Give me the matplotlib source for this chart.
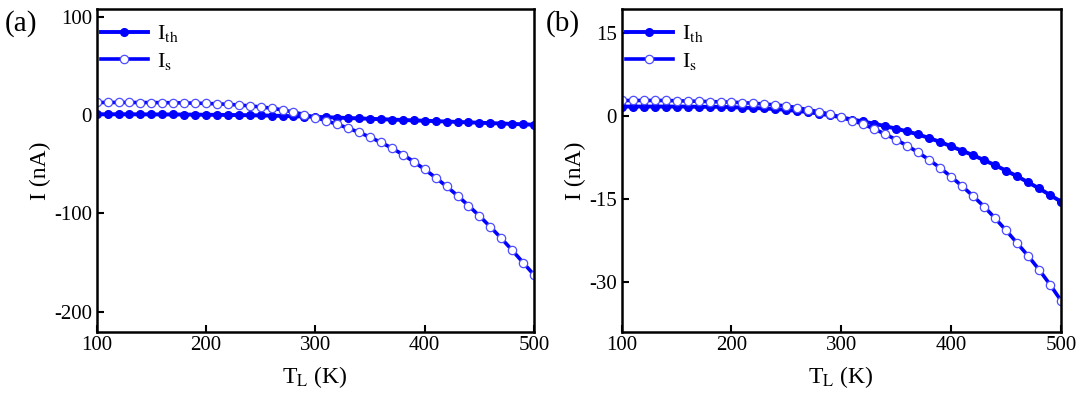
import numpy as np
import matplotlib
matplotlib.use("Agg")
import matplotlib.pyplot as plt

plt.rcParams['font.family'] = ['Liberation Serif', 'DejaVu Serif']
plt.rcParams['mathtext.fontset'] = 'stix'
plt.rcParams['axes.unicode_minus'] = False

# temperature grid (K)
T = list(range(100, 510, 10))

# panel (a) currents (nA)
ith_a = [0.8, 0.8, 0.8, 0.8, 0.7, 0.7, 0.6, 0.6, 0.5, 0.4,
         0.3, 0.2, 0.1, 0.0, -0.2, -0.4, -0.6, -0.9, -1.2, -1.5,
         -1.8, -2.2, -2.6, -3.0, -3.4, -3.8, -4.2, -4.6, -5.0, -5.4,
         -5.8, -6.2, -6.6, -7.0, -7.4, -7.8, -8.2, -8.6, -9.0, -9.4, -9.8]
is_a = [12.8, 12.8, 12.8, 12.8, 12.7, 12.7, 12.6, 12.5, 12.3, 12.1,
        11.8, 11.4, 10.9, 10.2, 9.3, 8.2, 7.0, 5.2, 3.0, 0.5,
        -2.5, -5.8, -9.4, -13.3, -17.6, -22.5, -27.8, -33.6, -40.2, -47.4,
        -55.2, -63.6, -72.5, -81.9, -92.0, -102.5, -113.6, -125.2, -137.4, -150.0, -162.5]

# panel (b) currents (nA)
ith_b = [1.7, 1.7, 1.7, 1.7, 1.7, 1.7, 1.7, 1.65, 1.65, 1.65,
         1.6, 1.5, 1.45, 1.35, 1.25, 1.1, 0.9, 0.7, 0.4, 0.1,
         -0.25, -0.65, -1.0, -1.4, -1.85, -2.3, -2.8, -3.35, -4.0, -4.7,
         -5.5, -6.3, -7.1, -8.0, -8.9, -9.9, -10.9, -12.0, -13.1, -14.3, -15.5]
is_b = [2.8, 2.8, 2.8, 2.8, 2.8, 2.75, 2.7, 2.65, 2.6, 2.55,
        2.5, 2.4, 2.3, 2.15, 2.0, 1.8, 1.5, 1.1, 0.75, 0.3,
        -0.25, -0.85, -1.5, -2.35, -3.3, -4.3, -5.4, -6.6, -7.95, -9.4,
        -11.0, -12.7, -14.5, -16.4, -18.5, -20.7, -23.0, -25.3, -27.8, -30.5, -33.4]

blue = '#0000ff'

fig = plt.figure(figsize=(10.8, 4.11), dpi=100)
ax_a = fig.add_axes([0.0895, 0.1934, 0.405, 0.784])
ax_b = fig.add_axes([0.5756, 0.1934, 0.4068, 0.784])


def draw(ax, ith, is_, ylim, yticks):
    ax.plot(T, ith, '-', color=blue, lw=2.8, marker='o', ms=5.5,
            mfc=blue, mec=blue, label=r'I$_{\rm th}$')
    ax.plot(T, is_, '-', color=blue, lw=2.6, marker='o', ms=6,
            mfc='white', mec='#4d4dff', mew=0.9, label=r'I$_{\rm s}$')
    ax.set_xlim(100, 500)
    ax.set_ylim(*ylim)
    ax.set_xticks([100, 200, 300, 400, 500])
    ax.set_yticks(yticks)
    ax.tick_params(direction='in', length=5, width=1.5, labelsize=15,
                   top=False, right=False)
    for s in ax.spines.values():
        s.set_linewidth(1.8)
    ax.set_xlabel(r'T$_{\rm L}$ (K)', fontsize=17, labelpad=6)
    ax.set_ylabel('I (nA)', fontsize=17, labelpad=2)
    ax.legend(loc='upper left', bbox_to_anchor=(0.0, 0.97), frameon=False,
              fontsize=16, numpoints=1, handlelength=2.1, handletextpad=0.4,
              labelspacing=0.3, borderaxespad=0.0, borderpad=0.2)


draw(ax_a, ith_a, is_a, (-220, 107.5), [-200, -100, 0, 100])
draw(ax_b, ith_b, is_b, (-39.0, 19.3), [-30, -15, 0, 15])

fig.text(0.004, 0.975, '(a)', fontsize=21, va='top', ha='left')
fig.text(0.505, 0.975, '(b)', fontsize=21, va='top', ha='left')

fig.savefig('out.png', dpi=100)
